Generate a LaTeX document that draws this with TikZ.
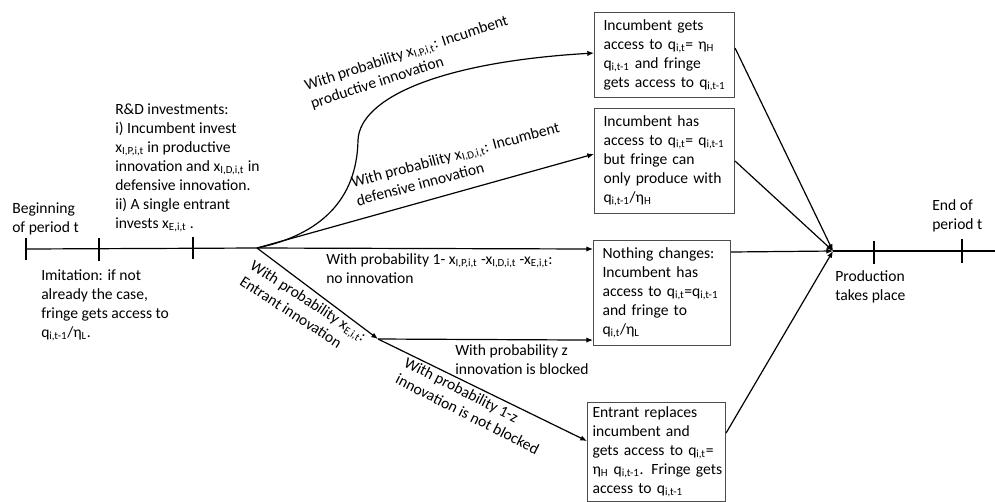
\documentclass[tikz,border=0pt]{standalone}
\usepackage{fontspec}
\setmainfont{Carlito}
\usetikzlibrary{arrows.meta,calc}
\newcommand\dn[1]{\textsubscript{#1}}
\begin{document}
\begin{tikzpicture}[x=0.75pt,y=-0.75pt,
 every node/.style={font=\fontsize{11.7pt}{14.25pt}\selectfont, inner sep=0pt},
 txt/.style={anchor=north west, align=left},
 box/.style={draw=black!70, line width=0.8pt, anchor=north west, align=left, inner xsep=6.75pt, inner ysep=0pt},
 wire/.style={line width=0.9pt},
 arr/.style={wire,-{Latex[length=5pt,width=4pt]}}]
\useasboundingbox (0,0) rectangle (995,501);
% boxes
\node[box, text width=91.5pt, minimum height=63.75pt] (b1) at (594,12) {\mbox{Incumbent gets}\\\mbox{access to q\dn{i,t}= η\dn{H}}\\\mbox{q\dn{i,t-1} and fringe}\\\mbox{gets access to q\dn{i,t-1}}};
\node[box, text width=91.5pt, minimum height=78.75pt] (b2) at (594,108) {\mbox{Incumbent has}\\\mbox{access to q\dn{i,t}= q\dn{i,t-1}}\\\mbox{but fringe can}\\\mbox{only produce with}\\\mbox{q\dn{i,t-1}/η\dn{H}}};
\node[box, text width=89.25pt, minimum height=78.75pt] (b3) at (593,240) {\mbox{Nothing changes:}\\\mbox{Incumbent has}\\\mbox{access to q\dn{i,t}=q\dn{i,t-1}}\\\mbox{and fringe to}\\\mbox{q\dn{i,t}/η\dn{L}}};
\node[box, inner xsep=3.75pt, text width=96pt, minimum height=74.25pt] (b4) at (587,402) {\mbox{Entrant replaces}\\\mbox{incumbent and}\\\mbox{gets access to q\dn{i,t}=}\\\mbox{η\dn{H} q\dn{i,t-1}. Fringe gets}\\\mbox{access to q\dn{i,t-1}}};
% key points
\coordinate (t0) at (26,249);
\coordinate (br) at (257,248);
\coordinate (sp) at (378,339);
\coordinate (prod) at (833,251);
\coordinate (tend) at (995,251);
% timeline
\draw[wire] (t0) -- (br);
\draw[wire] (26,238) -- (26,260);
\draw[wire] (99,238) -- (99,261);
\draw[wire] (193,237) -- (193,259);
\draw[wire] (874,241) -- (874,264);
\draw[wire] (962,239) -- (962,263);
% branches
\draw[arr] (br) .. controls (320,235) and (357,200) .. (358,140) .. controls (360,98) and (440,62) .. ($(b1.west)+(0,-2)$);
\draw[arr] (br) -- ($(b2.west)+(0,-7)$);
\draw[arr] (br) -- ($(b3.north west)+(0,9)$);
\draw[arr] (br) -- (sp);
\draw[arr] (sp) -- ($(b3.south west)+(0,-6)$);
\draw[arr] (sp) -- ($(b4.west)+(0,-11)$);
% to production
\draw[arr] ($(b1.east)+(0,-7)$) -- (prod);
\draw[arr] (b2.east) -- (prod);
\draw[arr] ($(b3.north east)+(0,12)$) -- (prod);
\draw[arr] ($(b4.east)+(0,-19)$) -- (prod);
\draw[wire] (prod) -- (tend);
% labels
\node[txt] (beg) at (12,202) {Beginning\\of period t};
\node[txt] (rd) at (115,103) {R\&D investments:\\i) Incumbent invest\\x\dn{I,P,i,t} in productive\\innovation and x\dn{I,D,i,t} in\\defensive innovation.\\ii) A single entrant\\invests x\dn{E,i,t} .};
\node[txt] (imit) at (41,269) {Imitation: if not\\already the case,\\fringe gets access to\\q\dn{i,t-1}/η\dn{L}.};
\node[txt, rotate=18] (lp) at (303,80) {With probability x\dn{I,P,i,t}: Incumbent\\productive innovation};
\node[txt, rotate=15] (ld) at (350,177) {With probability x\dn{I,D,i,t}: Incumbent\\defensive innovation};
\node[txt] (lnone) at (326,253) {With probability 1- x\dn{I,P,i,t} -x\dn{I,D,i,t} -x\dn{E,i,t}:\\no innovation};
\node[txt, rotate=-33] (le) at (255,259) {With probability x\dn{E,i,t}:\\Entrant innovation};
\node[txt] (lz) at (455,344) {With probability z\\innovation is blocked};
\node[txt, rotate=-27] (lnz) at (408,356) {With probability 1-z\\innovation is not blocked};
\node[txt] (prodl) at (835,270) {Production\\takes place};
\node[txt] (endl) at (932,199) {End of\\period t};
\end{tikzpicture}
\end{document}
